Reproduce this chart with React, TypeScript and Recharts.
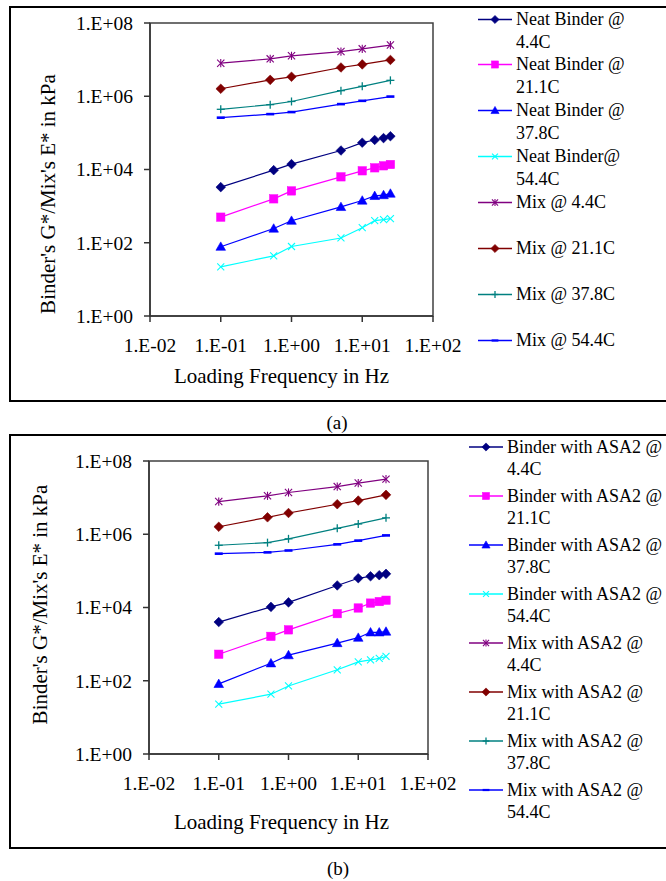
import React from 'react';
import { LineChart, Line, XAxis, YAxis, ReferenceArea, Label } from 'recharts';

const FONT = '"Liberation Serif", "Times New Roman", Times, serif';

// ---------- shared axes / categories ----------
const binderFreq = [0.1, 0.56, 1, 5, 10, 15, 20, 25];
const mixFreq = [0.1, 0.5, 1, 5, 10, 25];
const xTicks = [0.01, 0.1, 1, 10, 100];
const yTicks = [1, 100, 1e4, 1e6, 1e8];
const xTitle = 'Loading Frequency in Hz';
const yTitle = "Binder's G*/Mix's E* in kPa";

// ---------- panel (a) values ----------
const neatBinder44 = [3300, 9600, 14000, 33000, 54000, 64000, 72000, 81000];
const neatBinder211 = [500, 1580, 2600, 6300, 9200, 11100, 12600, 13700];
const neatBinder378 = [78, 244, 400, 950, 1420, 1900, 2000, 2200];
const neatBinder544 = [22, 44, 79, 135, 258, 400, 430, 455];
const mix44 = [8.0e6, 1.05e7, 1.27e7, 1.66e7, 1.97e7, 2.5e7];
const mix211 = [1.6e6, 2.8e6, 3.4e6, 6.1e6, 7.4e6, 9.8e6];
const mix378 = [4.4e5, 5.9e5, 7.2e5, 1.42e6, 1.87e6, 2.72e6];
const mix544 = [2.6e5, 3.25e5, 3.7e5, 6.1e5, 7.5e5, 9.8e5];

// ---------- panel (b) values ----------
const asaBinder44 = [4000, 10400, 13800, 40000, 63000, 71000, 76000, 83000];
const asaBinder211 = [530, 1630, 2450, 6800, 9700, 13200, 14500, 15800];
const asaBinder378 = [82, 300, 500, 1070, 1500, 2100, 2100, 2200];
const asaBinder544 = [23, 43, 72, 199, 328, 370, 410, 460];
const asaMix44 = [7.8e6, 1.12e7, 1.38e7, 2.0e7, 2.5e7, 3.2e7];
const asaMix211 = [1.6e6, 2.9e6, 3.8e6, 6.6e6, 8.3e6, 1.19e7];
const asaMix378 = [5.0e5, 5.9e5, 7.5e5, 1.45e6, 1.91e6, 2.8e6];
const asaMix544 = [2.95e5, 3.2e5, 3.6e5, 5.3e5, 6.7e5, 9.3e5];

// ---------- legend labels ----------
const labelsA = [
  'Neat Binder @ 4.4C',
  'Neat Binder @ 21.1C',
  'Neat Binder @ 37.8C',
  'Neat Binder@ 54.4C',
  'Mix @ 4.4C',
  'Mix @ 21.1C',
  'Mix @ 37.8C',
  'Mix @ 54.4C',
];
const labelsB = [
  'Binder with ASA2 @ 4.4C',
  'Binder with ASA2 @ 21.1C',
  'Binder with ASA2 @ 37.8C',
  'Binder with ASA2 @ 54.4C',
  'Mix with ASA2 @ 4.4C',
  'Mix with ASA2 @ 21.1C',
  'Mix with ASA2 @ 37.8C',
  'Mix with ASA2 @ 54.4C',
];

type Shape = 'diamond' | 'square' | 'triangle' | 'x' | 'star' | 'plus' | 'dash';
const styles: { color: string; shape: Shape }[] = [
  { color: '#000080', shape: 'diamond' },
  { color: '#FF00FF', shape: 'square' },
  { color: '#0000FF', shape: 'triangle' },
  { color: '#00FFFF', shape: 'x' },
  { color: '#800080', shape: 'star' },
  { color: '#800000', shape: 'diamond' },
  { color: '#008080', shape: 'plus' },
  { color: '#0000FF', shape: 'dash' },
];

const toPoints = (f: number[], v: number[]) => f.map((x, i) => ({ f: x, v: v[i] }));

const seriesA = [neatBinder44, neatBinder211, neatBinder378, neatBinder544, mix44, mix211, mix378, mix544];
const seriesB = [asaBinder44, asaBinder211, asaBinder378, asaBinder544, asaMix44, asaMix211, asaMix378, asaMix544];

const fmt = (v: number) => {
  const e = Math.round(Math.log10(v));
  return `1.E${e < 0 ? '-' : '+'}${String(Math.abs(e)).padStart(2, '0')}`;
};

function Marker({ shape, cx, cy, color, s = 1 }: { shape: Shape; cx: number; cy: number; color: string; s?: number }) {
  if (cx == null || cy == null || isNaN(cx) || isNaN(cy)) return null;
  switch (shape) {
    case 'diamond': {
      const r = 4.8 * s;
      return <path d={`M${cx},${cy - r}L${cx + r},${cy}L${cx},${cy + r}L${cx - r},${cy}Z`} fill={color} stroke={color} strokeWidth={0.6} />;
    }
    case 'square': {
      const r = 4.2 * s;
      return <rect x={cx - r} y={cy - r} width={2 * r} height={2 * r} fill={color} stroke={color} strokeWidth={0.5} />;
    }
    case 'triangle': {
      const r = 4.8 * s;
      return <path d={`M${cx},${cy - r}L${cx + r},${cy + r * 0.75}L${cx - r},${cy + r * 0.75}Z`} fill={color} stroke={color} strokeWidth={0.6} />;
    }
    case 'x': {
      const r = 3.5 * s;
      return (
        <g stroke={color} strokeWidth={1.1}>
          <line x1={cx - r} y1={cy - r} x2={cx + r} y2={cy + r} />
          <line x1={cx - r} y1={cy + r} x2={cx + r} y2={cy - r} />
        </g>
      );
    }
    case 'star': {
      const r = 3.6 * s;
      return (
        <g stroke={color} strokeWidth={1.1}>
          <line x1={cx - r} y1={cy - r} x2={cx + r} y2={cy + r} />
          <line x1={cx - r} y1={cy + r} x2={cx + r} y2={cy - r} />
          <line x1={cx} y1={cy - r - 0.5} x2={cx} y2={cy + r + 0.5} />
        </g>
      );
    }
    case 'plus': {
      const r = 4 * s;
      return (
        <g stroke={color} strokeWidth={1.3}>
          <line x1={cx - r} y1={cy} x2={cx + r} y2={cy} />
          <line x1={cx} y1={cy - r} x2={cx} y2={cy + r} />
        </g>
      );
    }
    case 'dash': {
      const w = 8 * s;
      const h = 2.6 * s;
      return <rect x={cx - w / 2} y={cy - h / 2} width={w} height={h} fill={color} />;
    }
  }
  return null;
}

type PanelProps = {
  top: number;
  series: number[][];
  margin: { top: number; right: number; bottom: number; left: number };
  yTitleX: number;
  yTitleY: number;
  xTitleDx: number;
  xTitleDy: number;
};

function Panel({ top, series, margin, yTitleX, yTitleY, xTitleDx, xTitleDy }: PanelProps) {
  const axisColor = '#333333';
  const tickStyle = { fontFamily: FONT, fontSize: 19.5, fill: '#000' };
  return (
    <div style={{ position: 'absolute', left: 0, top }}>
      <LineChart width={666} height={400} margin={margin}>
        <XAxis
          dataKey="f"
          type="number"
          scale="log"
          domain={[0.01, 100]}
          ticks={xTicks}
          allowDataOverflow
          tickFormatter={fmt}
          tick={tickStyle}
          tickSize={6}
          tickMargin={16}
          height={60}
          stroke={axisColor}
          strokeWidth={1.5}
          interval={0}
        >
          <Label
            content={(p: any) => {
              const vb = p.viewBox || {};
              return (
                <text
                  x={vb.x + vb.width / 2 + xTitleDx}
                  y={vb.y + xTitleDy}
                  textAnchor="middle"
                  style={{ fontFamily: FONT, fontSize: 21, fill: '#000' }}
                >
                  {xTitle}
                </text>
              );
            }}
          />
        </XAxis>
        <YAxis
          type="number"
          scale="log"
          domain={[1, 1e8]}
          ticks={yTicks}
          allowDataOverflow
          tickFormatter={fmt}
          tick={tickStyle}
          tickSize={6}
          tickMargin={11}
          width={140}
          stroke={axisColor}
          strokeWidth={1.5}
          interval={0}
        >
          <Label
            content={() => (
              <text
                x={yTitleX}
                y={yTitleY}
                transform={`rotate(-90 ${yTitleX} ${yTitleY})`}
                textAnchor="middle"
                style={{ fontFamily: FONT, fontSize: 21, fill: '#000' }}
              >
                {yTitle}
              </text>
            )}
          />
        </YAxis>
        <ReferenceArea x1={0.01} x2={100} y1={1} y2={1e8} fill="none" stroke="#404040" strokeWidth={1.5} ifOverflow="visible" />
        {series.map((vals, i) => {
          const st = styles[i];
          const freq = i < 4 ? binderFreq : mixFreq;
          return (
            <Line
              key={i}
              data={toPoints(freq, vals)}
              dataKey="v"
              type="linear"
              stroke={st.color}
              strokeWidth={1.2}
              isAnimationActive={false}
              activeDot={false}
              legendType="none"
              dot={(p: any) => <Marker key={`d${i}-${p.index}`} shape={st.shape} cx={p.cx} cy={p.cy} color={st.color} />}
            />
          );
        })}
      </LineChart>
    </div>
  );
}

function LegendBlock({ labels, left, top, step, lineH, textW }: { labels: string[]; left: number; top: number; step: number; lineH: number; textW: number }) {
  return (
    <div style={{ position: 'absolute', left, top }}>
      {labels.map((lab, i) => {
        const st = styles[i];
        return (
          <div key={i} style={{ position: 'absolute', left: 0, top: i * step, display: 'flex', alignItems: 'flex-start' }}>
            <svg width={34} height={lineH} style={{ display: 'block', flex: 'none' }}>
              <line x1={0} y1={lineH / 2} x2={34} y2={lineH / 2} stroke={st.color} strokeWidth={1.3} />
              <Marker shape={st.shape} cx={17} cy={lineH / 2} color={st.color} s={0.85} />
            </svg>
            <div
              style={{
                marginLeft: 4,
                width: textW,
                fontFamily: FONT,
                fontSize: 18,
                lineHeight: `${lineH}px`,
                color: '#000',
              }}
            >
              {lab}
            </div>
          </div>
        );
      })}
    </div>
  );
}

export default function App() {
  return (
    <div style={{ position: 'absolute', left: 0, top: 0, width: 666, height: 881, overflow: 'hidden', background: '#fff' }}>
      {/* panel borders */}
      <div style={{ position: 'absolute', left: 9, top: 6, width: 700, height: 396, border: '2px solid #000', boxSizing: 'border-box' }} />
      <div style={{ position: 'absolute', left: 9, top: 434, width: 700, height: 415, border: '2px solid #000', boxSizing: 'border-box' }} />

      <Panel
        top={0}
        series={seriesA}
        margin={{ top: 23, right: 233, bottom: 24, left: 10 }}
        yTitleX={54.5}
        yTitleY={194}
        xTitleDx={-10}
        xTitleDy={67}
      />
      <Panel
        top={434}
        series={seriesB}
        margin={{ top: 27, right: 238, bottom: 20, left: 9 }}
        yTitleX={46.5}
        yTitleY={170.5}
        xTitleDx={-7}
        xTitleDy={75}
      />

      <LegendBlock labels={labelsA} left={478} top={19 - 11.5} step={45.9} lineH={23} textW={132} />
      <LegendBlock labels={labelsB} left={469} top={447 - 11} step={49} lineH={22} textW={162} />

      <div style={{ position: 'absolute', left: 0, width: 666, top: 410, textAlign: 'center', fontFamily: FONT, fontSize: 19, lineHeight: '26px', color: '#000', paddingLeft: 8, boxSizing: 'border-box' }}>(a)</div>
      <div style={{ position: 'absolute', left: 0, width: 666, top: 856, textAlign: 'center', fontFamily: FONT, fontSize: 19, lineHeight: '26px', color: '#000', paddingLeft: 10, boxSizing: 'border-box' }}>(b)</div>
    </div>
  );
}
